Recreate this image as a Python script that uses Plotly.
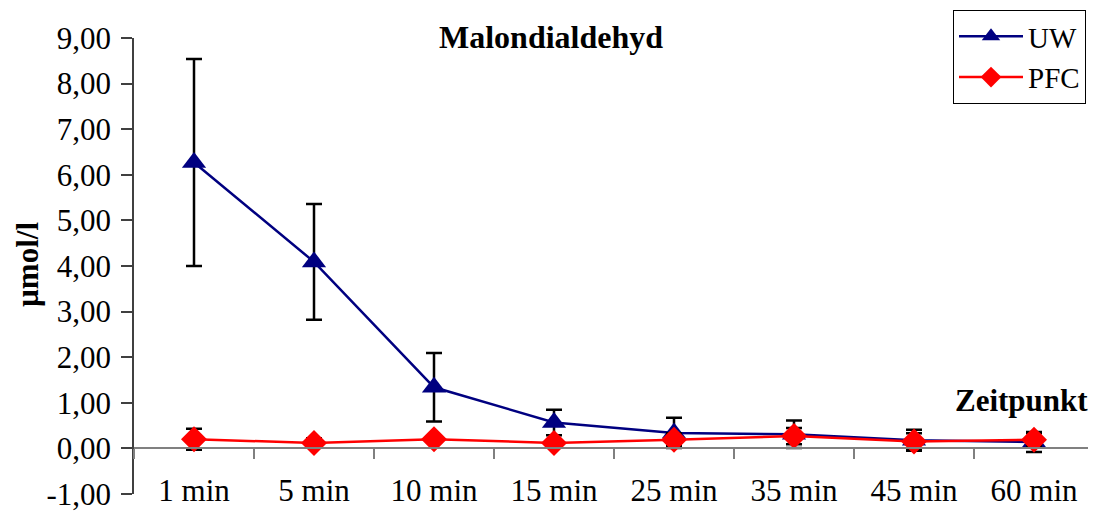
import plotly.graph_objects as go

categories = ["1 min", "5 min", "10 min", "15 min", "25 min", "35 min", "45 min", "60 min"]
uw_values = [6.27, 4.09, 1.34, 0.57, 0.34, 0.31, 0.18, 0.14]
uw_errors = [2.27, 1.27, 0.75, 0.28, 0.33, 0.30, 0.23, 0.22]
pfc_values = [0.20, 0.12, 0.20, 0.12, 0.19, 0.27, 0.15, 0.19]
pfc_errors = [0.23, 0.10, 0.05, 0.05, 0.14, 0.18, 0.18, 0.14]
y_ticks = [-1, 0, 1, 2, 3, 4, 5, 6, 7, 8, 9]
y_tick_labels = [f"{v:.2f}".replace(".", ",") for v in y_ticks]

FONT = "Liberation Serif, Times New Roman, serif"

fig = go.Figure()
fig.add_trace(go.Scatter(
    x=categories, y=uw_values, name="UW", mode="lines+markers",
    line=dict(color="#000080", width=2.5),
    marker=dict(symbol="triangle-up", size=21, color="#000080"),
    error_y=dict(type="data", array=uw_errors, visible=True, color="black", thickness=2.5, width=8),
))
fig.add_trace(go.Scatter(
    x=categories, y=pfc_values, name="PFC", mode="lines+markers",
    line=dict(color="#ff0000", width=2.5),
    marker=dict(symbol="diamond", size=20, color="#ff0000"),
    error_y=dict(type="data", array=pfc_errors, visible=True, color="black", thickness=2.5, width=8),
))
# invisible trace to create the zero-crossing axis with boundary ticks
fig.add_trace(go.Scatter(x=categories, y=pfc_values, xaxis="x2", mode="markers",
                         marker=dict(opacity=0), showlegend=False, hoverinfo="skip"))

fig.update_layout(
    width=1096, height=514,
    margin=dict(l=126, r=10, t=30, b=28, autoexpand=False),
    paper_bgcolor="white", plot_bgcolor="white",
    font=dict(family=FONT, size=30, color="black"),
    showlegend=True,
    legend=dict(xref="container", yref="container",
                x=(953 - 8) / 1096, y=1 - (10 - 8) / 514, xanchor="left", yanchor="top",
                bordercolor="black", borderwidth=1, bgcolor="white",
                font=dict(family=FONT, size=29), tracegroupgap=0, itemwidth=64),
    xaxis=dict(type="category", categoryorder="array", categoryarray=categories,
               range=[-0.5, 7.5], anchor="free", position=0.054, automargin=False,
               showline=False, ticks="", showgrid=False, zeroline=False,
               tickfont=dict(family=FONT, size=31)),
    xaxis2=dict(type="category", categoryorder="array", categoryarray=categories,
                range=[-0.5, 7.5], overlaying="x", anchor="free", position=0.1,
                automargin=False,
                showline=True, linecolor="#808080", linewidth=1.5,
                ticks="outside", tickson="boundaries", ticklen=10, tickcolor="#808080",
                tickwidth=1.5, showticklabels=False, showgrid=False),
    yaxis=dict(range=[-1, 9], tickvals=y_ticks, ticktext=y_tick_labels, automargin=False,
               showline=True, linecolor="#404040", linewidth=1.5,
               ticks="outside", ticklen=11, tickcolor="#404040", tickwidth=1.5,
               showgrid=False, zeroline=False, ticklabelstandoff=4,
               tickfont=dict(family=FONT, size=31)),
    annotations=[
        dict(text="<b>Malondialdehyd</b>", xref="paper", yref="paper",
             x=(551 - 134) / 960, y=(494 - 37) / 456, xanchor="center", yanchor="middle",
             showarrow=False, font=dict(family=FONT, size=32)),
        dict(text="<b>Zeitpunkt</b>", xref="paper", yref="paper",
             x=(1090 - 134) / 960, y=(494 - 400) / 456, xanchor="right", yanchor="middle",
             showarrow=False, font=dict(family=FONT, size=31)),
        dict(text="<b>µmol/l</b>", xref="paper", yref="paper",
             x=(27 - 134) / 960, y=(494 - 265) / 456, xanchor="center", yanchor="middle",
             textangle=-90, showarrow=False, font=dict(family=FONT, size=31)),
    ],
)

fig.write_html("out.html")
